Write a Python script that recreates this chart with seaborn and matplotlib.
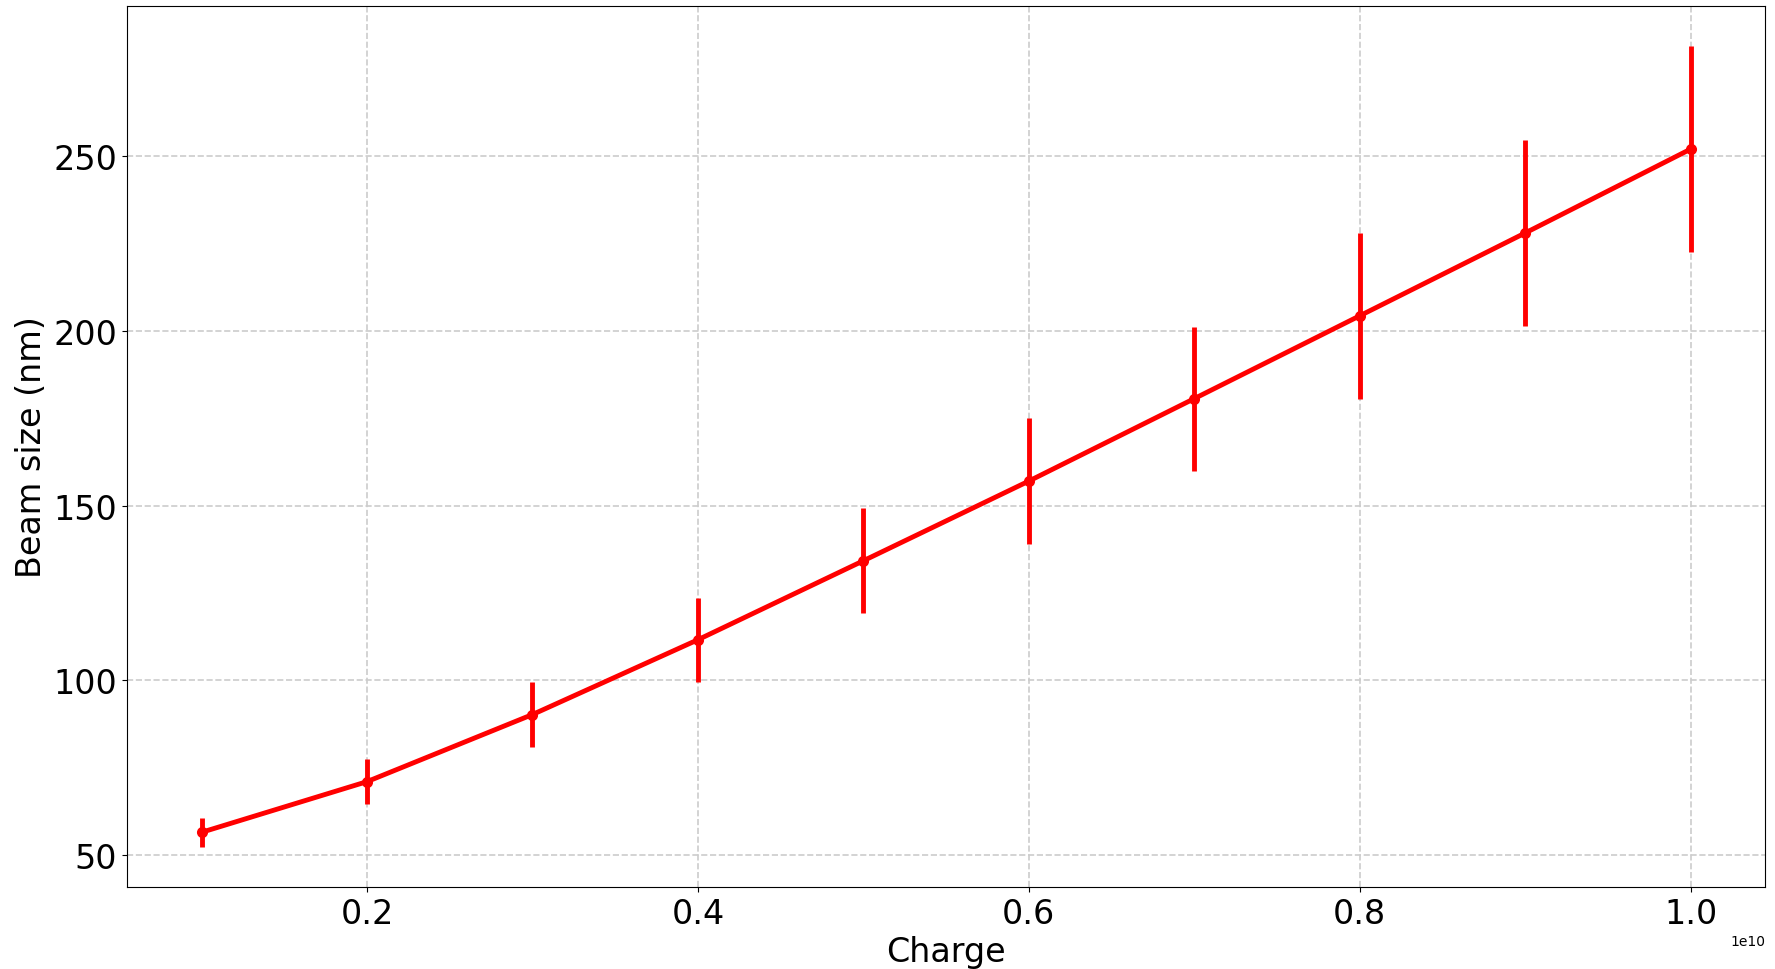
import numpy as np
import matplotlib.pyplot as plt
import seaborn as sns

# bunch charge (number of particles)
charge = [1e9, 2e9, 3e9, 4e9, 5e9, 6e9, 7e9, 8e9, 9e9, 1e10]
# mean beam size and its spread, nm
beam_size = [56.5, 71.0, 90.2, 111.6, 134.2, 157.0, 180.6, 204.3, 228.0, 252.0]
beam_err = [4.2, 6.5, 9.3, 12.0, 15.0, 18.0, 20.6, 23.7, 26.7, 29.5]

sns.set_style("ticks", {"text.color": "black", "axes.labelcolor": "black",
                        "xtick.color": "black", "ytick.color": "black",
                        "axes.edgecolor": "black"})

fig = plt.figure(figsize=(17.75, 9.7), dpi=100)
ax = fig.add_axes([0.0716, 0.0845, 0.9228, 0.9083])

sns.lineplot(x=charge, y=beam_size, ax=ax, color="red", linewidth=3.5,
             marker="o", markersize=8, markeredgewidth=0)
ax.errorbar(charge, beam_size, yerr=beam_err, fmt="none", ecolor="red",
            elinewidth=3.5, capsize=0)

ax.grid(True, linestyle="--", color="#cccccc", linewidth=1.2)
ax.set_xlabel("Charge", fontsize=24)
ax.set_ylabel("Beam size (nm)", fontsize=24)
ax.tick_params(labelsize=24)
ax.set_yticks([50, 100, 150, 200, 250])

# title sits above the canvas, only the descenders show
ax.set_title("Vertical beam size at the IP versus bunch charge, wakefield study",
             fontsize=24, y=1.008)

plt.savefig("out.png", dpi=100)
